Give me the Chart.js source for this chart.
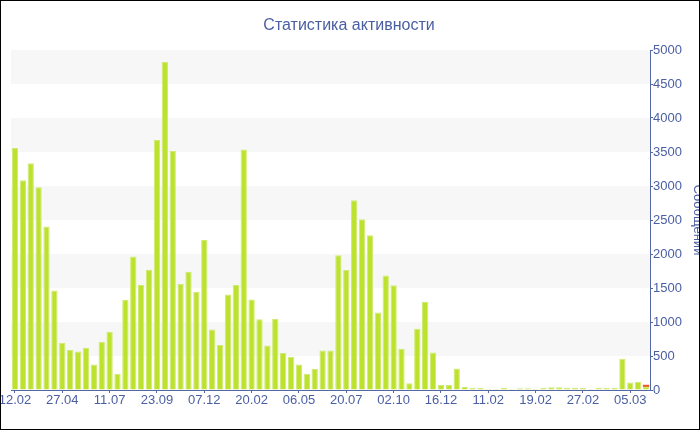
<!DOCTYPE html>
<html>
<head>
<meta charset="utf-8">
<script src="https://cdn.jsdelivr.net/npm/chart.js@4.4.1/dist/chart.umd.min.js"></script>
<style>
  body { margin: 0; background: #fff; }
  #frame { position: relative; width: 700px; height: 430px; box-sizing: border-box; border: 1px solid #000; overflow: hidden; background: #fff; }
  #box { position: absolute; left: 0; top: 0; width: 698px; height: 428px; }
</style>
</head>
<body>
<div id="frame">
  <div id="box"><canvas id="activity-chart"></canvas></div>
</div>
<script>
  // labels shown under every 6th bar
  const tickLabels = ['12.02', '27.04', '11.07', '23.09', '07.12', '20.02', '06.05',
                      '20.07', '02.10', '16.12', '11.02', '19.02', '27.02', '05.03'];

  // messages per period (main series)
  const messages = [
    3560, 3085, 3335, 2980, 2405, 1465, 690, 590, 565, 620,
    375, 710, 855, 240, 1325, 1965, 1545, 1770, 3675, 4825,
    3515, 1560, 1740, 1440, 2205, 890, 660, 1405, 1545, 3535,
    1330, 1040, 655, 1045, 545, 490, 375, 240, 310, 580,
    580, 1980, 1765, 2790, 2510, 2275, 1140, 1685, 1540, 605,
    100, 900, 1295, 550, 75, 75, 315, 45, 30, 30,
    15, 15, 30, 15, 25, 25, 15, 30, 40, 40,
    30, 30, 30, 15, 30, 30, 30, 460, 110, 120,
    45
  ];

  // second small series, only present in the last period
  const extra = [
    0, 0, 0, 0, 0, 0, 0, 0, 0, 0,
    0, 0, 0, 0, 0, 0, 0, 0, 0, 0,
    0, 0, 0, 0, 0, 0, 0, 0, 0, 0,
    0, 0, 0, 0, 0, 0, 0, 0, 0, 0,
    0, 0, 0, 0, 0, 0, 0, 0, 0, 0,
    0, 0, 0, 0, 0, 0, 0, 0, 0, 0,
    0, 0, 0, 0, 0, 0, 0, 0, 0, 0,
    0, 0, 0, 0, 0, 0, 0, 0, 0, 0,
    32
  ];

  const categories = messages.map((v, i) => (i % 6 === 0 ? tickLabels[i / 6] : ''));

  const axisColor = '#5468a8';
  const textColor = '#4a5ea2';
  const fontFamily = "'Liberation Sans', Arial, sans-serif";

  // light grey bands every other 500 step
  const bandPlugin = {
    id: 'bands',
    beforeDraw(chart) {
      const { ctx, chartArea, scales: { y } } = chart;
      ctx.save();
      ctx.fillStyle = '#f7f7f7';
      for (let v = 500; v < 5000; v += 1000) {
        const top = y.getPixelForValue(v + 500);
        const bottom = y.getPixelForValue(v);
        ctx.fillRect(chartArea.left, top, chartArea.right - chartArea.left, bottom - top);
      }
      ctx.restore();
    }
  };

  new Chart(document.getElementById('activity-chart'), {
    type: 'bar',
    data: {
      labels: categories,
      datasets: [{
        data: messages,
        backgroundColor: '#bde22e',
        borderColor: '#cfea72',
        borderWidth: 1,
        borderSkipped: 'start',
        categoryPercentage: 0.8,
        barPercentage: 1
      }, {
        data: extra,
        backgroundColor: '#e8622a',
        borderWidth: 0,
        categoryPercentage: 0.8,
        barPercentage: 1
      }]
    },
    plugins: [bandPlugin],
    options: {
      responsive: true,
      maintainAspectRatio: false,
      animation: false,
      layout: { padding: { left: 10, top: 0, right: 12, bottom: 0 } },
      plugins: {
        legend: { display: false },
        tooltip: { enabled: false },
        title: {
          display: true,
          text: 'Статистика активности',
          color: textColor,
          font: { family: fontFamily, size: 16, weight: 'normal' },
          padding: { top: 15, bottom: 14.8 }
        }
      },
      scales: {
        x: {
          stacked: true,
          grid: { drawOnChartArea: false, offset: false, color: axisColor, tickLength: 3 },
          border: { color: axisColor, width: 1 },
          ticks: {
            autoSkip: false,
            maxRotation: 0,
            padding: 0,
            color: textColor,
            font: { family: fontFamily, size: 13 },
            callback: (v, i) => (i % 6 === 0 ? tickLabels[i / 6] : null)
          },
          afterFit: s => { s.height = 428 - 389; s.paddingLeft = 0; s.paddingRight = 0; }
        },
        y: {
          stacked: true,
          position: 'right',
          min: 0,
          max: 5000,
          grid: { drawOnChartArea: false, color: axisColor, tickLength: 3 },
          border: { color: axisColor, width: 1 },
          ticks: {
            stepSize: 250,
            padding: 0,
            color: textColor,
            font: { family: fontFamily, size: 13 },
            callback: v => (v % 500 === 0 ? v : '')
          },
          title: {
            display: true,
            text: 'Сообщений',
            color: textColor,
            font: { family: fontFamily, size: 13 },
            padding: { top: -18.8, bottom: 0 }
          },
          afterFit: s => { s.width = 686 - 649; s.paddingTop = 0; s.paddingBottom = 0; }
        }
      }
    }
  });
</script>
</body>
</html>
